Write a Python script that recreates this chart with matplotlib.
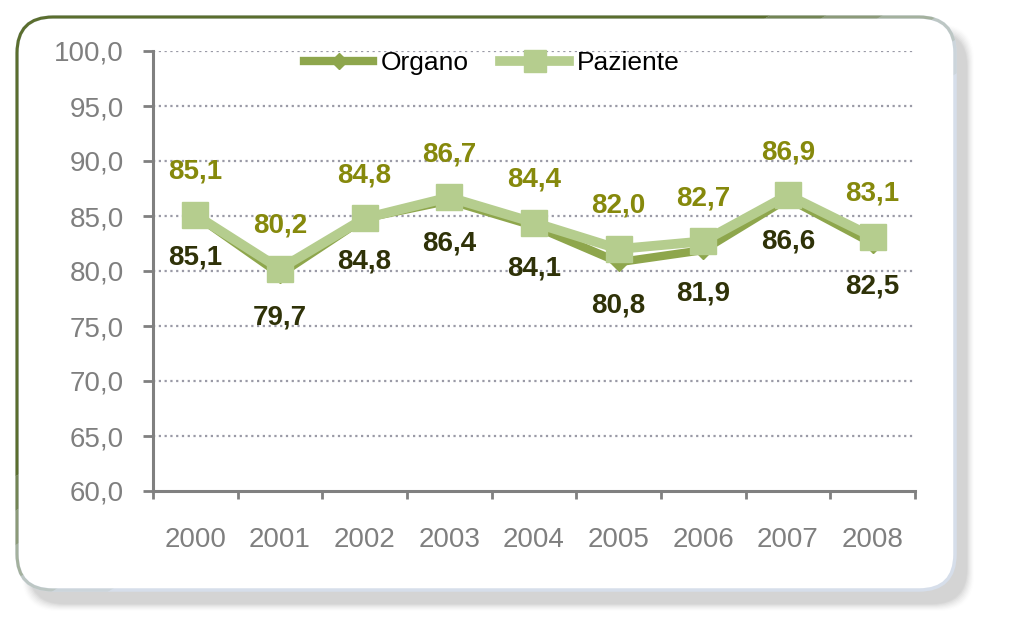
import matplotlib
matplotlib.use("Agg")
import matplotlib.pyplot as plt
from matplotlib.patches import FancyBboxPatch, Polygon
import numpy as np

years = ["2000", "2001", "2002", "2003", "2004", "2005", "2006", "2007", "2008"]
organo = [85.1, 79.7, 84.8, 86.4, 84.1, 80.8, 81.9, 86.6, 82.5]
paziente = [85.1, 80.2, 84.8, 86.7, 84.4, 82.0, 82.7, 86.9, 83.1]
series_names = ["Organo", "Paziente"]
y_ticks = [60, 65, 70, 75, 80, 85, 90, 95, 100]

W, H = 1009, 644
plt.rcParams['font.family'] = ['Liberation Sans', 'DejaVu Sans']
fig = plt.figure(figsize=(W / 100, H / 100), dpi=100)
fig.patch.set_facecolor('white')

# background panel (pixel coordinates)
bg = fig.add_axes([0, 0, 1, 1], zorder=0)
bg.set_xlim(0, W)
bg.set_ylim(H, 0)
bg.axis('off')

bx0, by0, bx1, by1 = 17, 17, 955, 590
rad = 36
Wb, Hb = (bx1 - bx0), (by1 - by0)
# shadow
for i, a in enumerate(np.linspace(0.10, 0.02, 8)):
    g = i * 2.0
    sh = FancyBboxPatch((bx0 + 12 - g / 2, by0 + 14 - g / 2), Wb + g, Hb + g,
                        boxstyle=f"round,pad=0,rounding_size={rad}", fc='#9a9a9a', ec='none',
                        alpha=a, zorder=1)
    bg.add_patch(sh)
sh = FancyBboxPatch((bx0 + 12, by0 + 14), Wb, Hb,
                    boxstyle=f"round,pad=0,rounding_size={rad}", fc='#d4d4d4', ec='none',
                    alpha=0.6, zorder=1)
bg.add_patch(sh)

panel = FancyBboxPatch((bx0, by0), Wb, Hb,
                       boxstyle=f"round,pad=0,rounding_size={rad}", fc='white', ec='#d6deea',
                       lw=2.5, zorder=2)
bg.add_patch(panel)


def pt(s, u):
    return (bx0 + Wb * (s * u), by0 + Hb * (s * (1 - u)))


bands = [(-1.0, 0.80, 1.0), (0.80, 0.86, 0.8), (0.86, 0.92, 0.6), (0.92, 0.98, 0.4),
         (0.98, 1.04, 0.2), (1.04, 1.10, 0.08)]
for t0, t1, a in bands:
    b = FancyBboxPatch((bx0, by0), Wb, Hb,
                       boxstyle=f"round,pad=0,rounding_size={rad}", fc='none', ec='#5b6e2e',
                       lw=2.2, alpha=a, zorder=3)
    bg.add_patch(b)
    pts = [pt(t0, -2), pt(t0, 3), pt(t1, 3), pt(t1, -2)]
    clip = Polygon(pts, closed=True, transform=bg.transData)
    b.set_clip_path(clip)

# main axes
x0, x1 = 153, 915
yb, yt = 491, 51
ax = fig.add_axes([x0 / W, 1 - yb / H, (x1 - x0) / W, (yb - yt) / H], zorder=5)
ax.patch.set_alpha(0)

xs = np.arange(len(years))
col_org = '#8ea64c'
col_paz = '#b5cd8e'
ax.plot(xs, organo, color=col_org, lw=6, marker='D', ms=9, mfc=col_org, mec=col_org,
        label=series_names[0], zorder=4, solid_joinstyle='miter')
ax.plot(xs, paziente, color=col_paz, lw=7, marker='s', ms=19, mfc=col_paz, mec=col_paz,
        label=series_names[1], zorder=5, solid_joinstyle='miter')

for xi, v in zip(xs, paziente):
    ax.annotate(f"{v:.1f}".replace('.', ','), (xi, v), xytext=(0, 31), textcoords='offset points',
                ha='center', va='center', fontsize=20, fontweight='bold', color='#86890c', zorder=7)
for xi, v in zip(xs, organo):
    ax.annotate(f"{v:.1f}".replace('.', ','), (xi, v), xytext=(0, -31), textcoords='offset points',
                ha='center', va='center', fontsize=20, fontweight='bold', color='#2f3208', zorder=7)

ax.set_xlim(-0.5, len(years) - 0.5)
ax.set_ylim(60, 100)
ax.set_yticks(y_ticks)
ax.set_yticklabels([f"{t:.1f}".replace('.', ',') for t in y_ticks])
ax.set_xticks(np.arange(-0.5, len(years)), minor=False)
ax.set_xticklabels([])
ax.set_xticks(xs, minor=True)
ax.set_xticklabels(years, minor=True)

gray = '#808080'
ax.tick_params(axis='y', which='major', direction='out', length=7, width=2, color=gray,
               labelsize=20, labelcolor='#7f7f7f', pad=14)
ax.tick_params(axis='x', which='major', direction='out', length=6, width=2, color=gray)
ax.tick_params(axis='x', which='minor', length=0, labelsize=20, labelcolor='#7f7f7f', pad=26)

for s in ['top', 'right']:
    ax.spines[s].set_visible(False)
for s in ['left', 'bottom']:
    ax.spines[s].set_color(gray)
    ax.spines[s].set_linewidth(2.2)

for t in y_ticks[1:]:
    ax.axhline(t, color='#9a9aa6', lw=1.6, ls=(0, (1, 1.6)), zorder=1)

leg = ax.legend(loc='center', bbox_to_anchor=(492 / W, 1 - 63 / H), bbox_transform=fig.transFigure,
                ncol=2, frameon=False, fontsize=19, handlelength=2.6, handletextpad=0.3,
                columnspacing=1.2, markerscale=0.85)

fig.savefig('out.png', dpi=100, facecolor='white')
